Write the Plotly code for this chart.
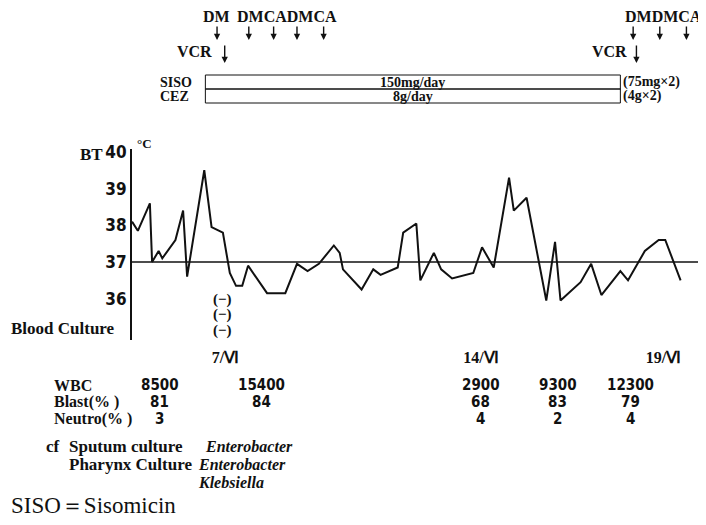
import plotly.graph_objects as go

# ---------------- data ----------------
# body temperature readings: x = day of June (fractional), y = deg C
bt_day = [4.44, 4.60, 4.93, 4.99, 5.17, 5.27, 5.63, 5.84, 5.95, 6.42, 6.62, 6.93,
          7.12, 7.29, 7.46, 7.62, 8.14, 8.64, 8.96, 9.25, 9.56, 9.97, 10.13, 10.22,
          10.73, 11.05, 11.25, 11.72, 11.87, 12.23, 12.34, 12.71, 12.91, 13.21,
          13.79, 14.03, 14.35, 14.77, 14.90, 15.25, 15.79, 16.03, 16.18, 16.73,
          17.02, 17.30, 17.82, 18.03, 18.49, 18.87, 19.05, 19.47]
bt_temp = [38.1, 37.85, 38.6, 37.0, 37.3, 37.1, 37.6, 38.4, 36.6, 39.5, 37.95, 37.8,
           36.7, 36.35, 36.35, 36.9, 36.15, 36.15, 36.95, 36.75, 36.95, 37.45, 37.25, 36.8,
           36.25, 36.8, 36.65, 36.85, 37.8, 38.05, 36.5, 37.25, 36.8, 36.55,
           36.7, 37.4, 36.85, 39.3, 38.4, 38.75, 35.95, 37.55, 35.95, 36.45,
           36.95, 36.1, 36.75, 36.5, 37.3, 37.6, 37.6, 36.5]
baseline_temp = 37
y_ticks = [36, 37, 38, 39, 40]
date_ticks = [7, 14, 19]
date_labels = ["7/\u2165", "14/\u2165", "19/\u2165"]

# drugs
dm_days_1 = [6.77]
dmca_days_1 = [7.64, 8.32, 8.96, 9.69]
vcr_days = [6.98, 18.26]
dmdmca_days_2 = [18.17, 18.90, 19.63]
drug_start, drug_end = 6.45, 17.82
drug_names = ["SISO", "CEZ"]
drug_doses = ["150mg/day", "8g/day"]
drug_after = ["(75mg\u00d72)", "(4g\u00d72)"]

# blood culture
blood_culture_day = 6.93
blood_culture = ["(\u2212)", "(\u2212)", "(\u2212)"]

# lab table
lab_days = [5.2, 8.0, 14.0, 16.1, 18.1]
wbc = [8500, 15400, 2900, 9300, 12300]
blast = [81, 84, 68, 83, 79]
neutro = [3, None, 4, 2, 4]

# ---------------- layout helpers ----------------
OFF = 8                       # page body margin of the browser
W, H = 706 - OFF, 525 - OFF
L_REF, R_REF, T_REF, B_REF = 132, 698, 149, 340   # plot area in window pixels
L_PX, R_PX, T_PX, B_PX = L_REF - OFF, R_REF - OFF, T_REF - OFF, B_REF - OFF
PX_PER_DAY = 36.5
PX_PER_DEG = 36.7
Y37_REF = 262
X_RANGE = [4.44, 4.44 + (R_REF - L_REF) / PX_PER_DAY]
Y_RANGE = [37 - (B_REF - Y37_REF) / PX_PER_DEG, 37 + (Y37_REF - T_REF) / PX_PER_DEG]


def py(p):
    return (B_REF - p) / (B_REF - T_REF)


def px(p):
    return (p - L_REF) / (R_REF - L_REF)


SERIF = "Liberation Serif, Times New Roman, serif"
NARROW = "Liberation Sans Narrow, Arial Narrow, DejaVu Sans Condensed, sans-serif"
BLACK = "#111111"

fig = go.Figure()
fig.add_trace(go.Scatter(x=bt_day, y=bt_temp, mode="lines",
                         line=dict(color=BLACK, width=2), hoverinfo="skip"))

ann = []
shapes = []

# 37 baseline
shapes.append(dict(type="line", xref="paper", yref="y", x0=0, x1=1,
                   y0=baseline_temp, y1=baseline_temp, line=dict(color=BLACK, width=1.5)))


def text(t, x, y, xref="paper", size=15, font=SERIF, xanchor="center", bold=True, italic=False):
    s = t
    if bold:
        s = "<b>" + s + "</b>"
    if italic:
        s = "<i>" + s + "</i>"
    ann.append(dict(text=s, x=x, y=y, xref=xref, yref="paper", showarrow=False,
                    xanchor=xanchor, yanchor="middle",
                    font=dict(family=font, size=size, color=BLACK)))


def arrow(day, tail_px, tip_px):
    ann.append(dict(x=day, y=py(tip_px), xref="x", yref="paper", ax=0, ay=-(tip_px - tail_px),
                    showarrow=True, arrowhead=2, arrowsize=0.9, arrowwidth=1.4,
                    arrowcolor=BLACK, text=""))


# top drug labels and arrows
text("DM", px(216), py(16), size=16)
text("DMCADMCA", px(287), py(16), size=16)
text("DMDMCA", px(663), py(16), size=16)
for d in dm_days_1 + dmca_days_1 + dmdmca_days_2:
    arrow(d, 25, 40)
for d in vcr_days:
    arrow(d, 44, 63)
text("VCR", px(214), py(51), size=16, xanchor="right")
text("VCR", px(629), py(51), size=16, xanchor="right")

# drug boxes
box_rows = [(75, 89), (89, 103)]
for (top, bot), name, dose, after in zip(box_rows, drug_names, drug_doses, drug_after):
    shapes.append(dict(type="rect", xref="x", yref="paper", x0=drug_start, x1=drug_end,
                       y0=py(bot), y1=py(top), line=dict(color=BLACK, width=1)))
    mid = py((top + bot) / 2)
    text(name, px(158), mid, size=14, xanchor="left")
    text(dose, (drug_start + drug_end) / 2, mid, xref="x", size=14)
    text(after, px(621), mid, size=14, xanchor="left")

# axis title and unit
text("BT", px(78), py(154), size=17, xanchor="left")
text("\u00b0C", px(135), py(143), size=13, xanchor="left")

# blood culture
text("Blood Culture", px(9), py(328), size=17, xanchor="left")
for t, yy in zip(blood_culture, [299, 314, 330]):
    text(t, blood_culture_day, py(yy), xref="x", size=15)

# lab table
rows = [("WBC", wbc, 385), ("Blast(% )", blast, 402), ("Neutro(% )", neutro, 419)]
for label, vals, yy in rows:
    text(label, px(52), py(yy), size=16, xanchor="left")
    for d, v in zip(lab_days, vals):
        if v is not None:
            text(str(v), d, py(yy), xref="x", size=15, font=NARROW)

# cultures
text("cf", px(44), py(446), size=17, xanchor="left")
text("Sputum culture", px(67), py(446), size=17, xanchor="left")
text("Enterobacter", px(203), py(446), size=16, xanchor="left", italic=True)
text("Pharynx Culture", px(67), py(464), size=17, xanchor="left")
text("Enterobacter", px(196), py(464), size=16, xanchor="left", italic=True)
text("Klebsiella", px(196), py(482), size=16, xanchor="left", italic=True)
text("SISO\uff1dSisomicin", px(9), py(505), size=23, xanchor="left", bold=False)

fig.update_layout(
    width=W, height=H,
    margin=dict(l=L_PX, r=W - R_PX, t=T_PX, b=H - B_PX, pad=0),
    paper_bgcolor="white", plot_bgcolor="white",
    showlegend=False,
    annotations=ann, shapes=shapes,
    xaxis=dict(range=X_RANGE, showgrid=False, zeroline=False, showline=False,
               tickvals=date_ticks, ticktext=["<b>" + s + "</b>" for s in date_labels],
               ticks="", ticklabelstandoff=6,
               tickfont=dict(family=SERIF, size=16, color=BLACK)),
    yaxis=dict(range=Y_RANGE, showgrid=False, zeroline=False, showline=True,
               linecolor=BLACK, linewidth=2, tickvals=y_ticks, ticks="",
               ticktext=["<b>%d</b>" % v for v in y_ticks],
               ticklabelstandoff=0,
               tickfont=dict(family=NARROW, size=17, color=BLACK)),
)

fig.write_html("out.html")
